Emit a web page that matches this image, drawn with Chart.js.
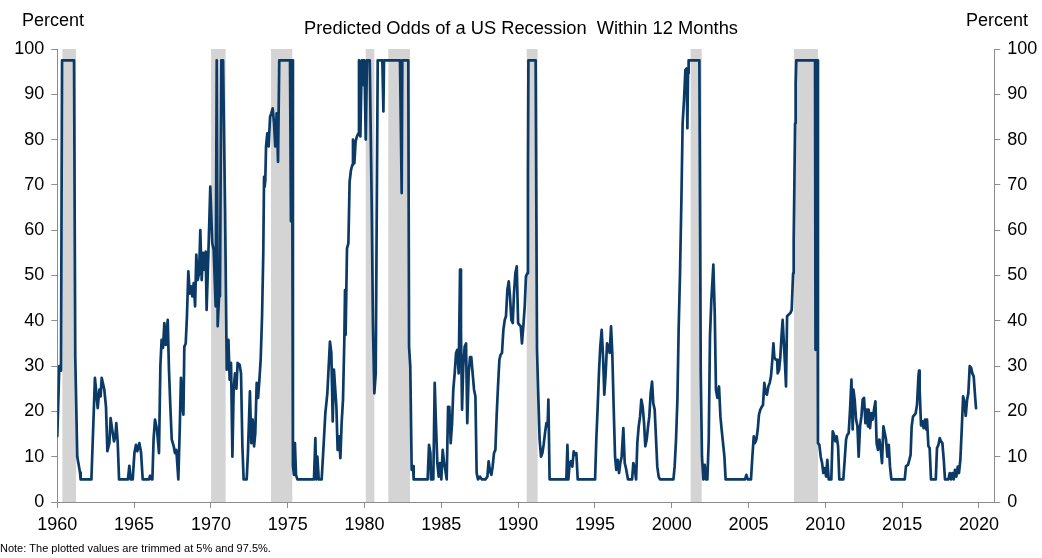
<!DOCTYPE html>
<html><head><meta charset="utf-8">
<script src="https://cdn.jsdelivr.net/npm/chart.js@4.4.1/dist/chart.umd.min.js"></script>
<style>html,body{margin:0;padding:0;background:#fff;}#wrap{width:1042px;height:558px;}</style>
</head><body><div id="wrap"><canvas id="c" width="1042" height="558"></canvas></div>
<script>
// Observation dates (decimal years, read at each vertex of the plotted line)
const dates = [
1960.00,1960.13,1960.24,1960.31,1961.09,1961.17,1961.30,1961.48,1961.52,1962.22,
1962.45,1962.63,1962.74,1962.82,1962.89,1963.06,1963.17,1963.26,1963.39,1963.47,
1963.56,1963.69,1963.78,1963.84,1963.93,1964.02,1964.60,1964.69,1964.78,1964.91,
1965.02,1965.12,1965.21,1965.34,1965.45,1965.56,1965.97,1966.04,1966.14,1966.19,
1966.27,1966.36,1966.49,1966.62,1966.71,1966.79,1966.88,1966.97,1967.06,1967.19,
1967.27,1967.36,1967.45,1967.58,1967.66,1967.75,1967.88,1967.97,1968.05,1968.14,
1968.21,1968.27,1968.36,1968.44,1968.53,1968.62,1968.70,1968.79,1968.88,1968.97,
1969.05,1969.14,1969.23,1969.31,1969.40,1969.49,1969.57,1969.66,1969.72,1969.83,
1969.96,1970.09,1970.18,1970.31,1970.38,1970.44,1970.53,1970.59,1970.68,1970.79,
1970.92,1971.03,1971.14,1971.22,1971.31,1971.40,1971.48,1971.57,1971.66,1971.74,
1971.87,1971.96,1972.05,1972.13,1972.33,1972.41,1972.54,1972.63,1972.72,1972.81,
1972.89,1972.98,1973.07,1973.15,1973.24,1973.33,1973.41,1973.46,1973.50,1973.54,
1973.59,1973.67,1973.76,1973.85,1973.93,1974.02,1974.11,1974.19,1974.28,1974.37,
1974.45,1975.15,1975.21,1975.28,1975.34,1975.41,1975.47,1975.54,1975.63,1976.71,
1976.80,1976.86,1976.93,1977.02,1977.21,1977.32,1977.45,1977.58,1977.75,1977.84,
1977.93,1978.01,1978.17,1978.25,1978.34,1978.43,1978.51,1978.60,1978.69,1978.73,
1978.77,1978.86,1978.95,1979.03,1979.12,1979.21,1979.25,1979.34,1979.42,1979.51,
1979.60,1979.64,1979.73,1979.82,1979.90,1979.95,1979.99,1980.08,1980.16,1980.34,
1980.47,1980.55,1980.64,1980.73,1980.86,1981.16,1981.23,1981.27,1982.31,1982.42,
1982.46,1982.85,1982.90,1982.98,1983.07,1983.16,1983.20,1984.11,1984.20,1984.29,
1984.33,1984.48,1984.57,1984.65,1984.74,1984.83,1984.91,1985.00,1985.09,1985.18,
1985.26,1985.35,1985.44,1985.52,1985.61,1985.70,1985.78,1985.87,1985.96,1986.04,
1986.13,1986.22,1986.28,1986.35,1986.43,1986.52,1986.61,1986.69,1986.78,1986.87,
1986.95,1987.04,1987.13,1987.22,1987.30,1987.39,1987.52,1987.63,1987.87,1988.00,
1988.08,1988.17,1988.26,1988.34,1988.43,1988.52,1988.60,1988.69,1988.78,1988.86,
1988.95,1989.04,1989.13,1989.21,1989.30,1989.39,1989.47,1989.56,1989.65,1989.73,
1989.82,1989.91,1990.00,1990.08,1990.17,1990.25,1990.34,1990.43,1990.51,1990.60,
1990.64,1990.67,1991.14,1991.23,1991.32,1991.40,1991.49,1991.58,1991.66,1991.75,
1991.84,1991.92,1991.97,1992.05,1993.14,1993.21,1993.27,1993.36,1993.44,1993.53,
1993.62,1993.70,1993.79,1993.88,1995.01,1995.09,1995.18,1995.27,1995.35,1995.44,
1995.53,1995.61,1995.70,1995.79,1995.87,1995.96,1996.05,1996.13,1996.22,1996.31,
1996.39,1996.48,1996.57,1996.65,1996.74,1996.85,1996.94,1997.02,1997.15,1997.42,
1997.50,1997.59,1997.68,1997.76,1997.85,1997.94,1998.02,1998.11,1998.20,1998.28,
1998.37,1998.46,1998.54,1998.63,1998.72,1998.80,1998.89,1998.98,1999.06,1999.15,
1999.24,2000.11,2000.19,2000.28,2000.37,2000.45,2000.54,2000.63,2000.71,2000.80,
2000.89,2000.97,2001.02,2001.06,2001.10,2001.80,2001.89,2001.97,2002.06,2002.15,
2002.23,2002.32,2002.41,2002.49,2002.58,2002.71,2002.80,2002.88,2002.97,2003.08,
2003.17,2003.25,2003.34,2003.43,2003.51,2004.77,2004.86,2004.95,2005.16,2005.25,
2005.34,2005.42,2005.51,2005.60,2005.68,2005.77,2005.86,2005.94,2006.03,2006.12,
2006.20,2006.29,2006.38,2006.46,2006.55,2006.62,2006.68,2006.77,2006.86,2006.90,
2006.99,2007.07,2007.16,2007.22,2007.29,2007.38,2007.44,2007.51,2007.59,2007.72,
2007.81,2007.90,2007.94,2007.98,2008.03,2008.07,2008.11,2009.33,2009.36,2009.40,
2009.47,2009.52,2009.61,2009.70,2009.79,2009.87,2009.96,2010.05,2010.13,2010.22,
2010.39,2010.48,2010.57,2010.65,2010.74,2010.83,2010.91,2011.17,2011.26,2011.35,
2011.43,2011.52,2011.61,2011.70,2011.78,2011.83,2011.91,2012.00,2012.09,2012.17,
2012.26,2012.35,2012.43,2012.52,2012.61,2012.69,2012.78,2012.82,2012.91,2013.00,
2013.08,2013.17,2013.26,2013.34,2013.43,2013.52,2013.61,2013.69,2013.78,2013.87,
2013.95,2014.04,2014.13,2014.21,2014.30,2015.17,2015.25,2015.38,2015.47,2015.55,
2015.62,2015.71,2015.80,2015.88,2015.97,2016.06,2016.10,2016.14,2016.23,2016.32,
2016.40,2016.49,2016.58,2016.62,2016.71,2016.79,2016.88,2017.19,2017.27,2017.36,
2017.45,2017.53,2017.62,2017.71,2017.79,2018.01,2018.10,2018.18,2018.27,2018.36,
2018.44,2018.53,2018.62,2018.70,2018.79,2018.88,2018.97,2019.05,2019.14,2019.23,
2019.31,2019.40,2019.49,2019.57,2019.66,2019.75,2019.81
];
// Predicted odds of recession within 12 months (percent, trimmed at 5 and 97.5)
const odds = [
14.5,30,29,97.5,97.5,32,10,6.5,5,5,
27.4,20.7,24.8,23.3,27.4,24.8,21,11.2,13,18.5,
16.3,13.4,14.5,17.4,13.4,5,5,8,5,5,
10.8,12.6,11.2,13,11,5,5,5.8,5,5,
14,18.2,16,10.8,30,35.8,34,39.5,34.7,40.2,
29.2,21,13.8,12.3,10.8,11.5,5,16,27.4,21,
19.3,34.3,35,41,50.9,46,47.6,45.4,48.3,43.2,
54.6,49,50.5,60,49,55,51.3,55.3,42.4,54.2,
69.6,57.1,55.7,43.2,97.5,38.8,45.4,46,97.5,97.5,
65,29.2,35.8,27,30.7,10,24.8,28.4,25,30.7,
30.3,28.4,12.3,5,5,10.8,24.4,13,18.2,12.3,
15.2,26.3,23,26.6,31.4,41,55,71.8,69.6,71,
78.5,81.4,78.5,85,85.8,86.9,83.6,78.5,85.8,75.1,
97.5,97.5,62,97.5,8,6,13,6,5,5,
14.1,5,10,5,5,11.5,19.6,24,35.4,32.9,
17.8,29.2,21,11.5,14.5,9.7,17.4,22.6,36.5,46.8,
36.9,56,57.1,70.7,73.3,74.4,80,74.8,79.6,80.7,
81.4,97.5,80.7,97.5,97.5,92,97.5,80,97.5,97.5,
65,38.8,24,28.4,97.5,97.5,86.2,97.5,97.5,68.2,
97.5,97.5,34.3,29.9,7.1,7.9,5,5,12.6,10.8,
5,5,26.3,17.4,8.6,5.6,8.6,5,11.5,8.6,
7.1,5,21,21,13,17.4,24.8,28.4,32.9,33.6,
28.4,51.3,37.3,20.4,30,34.3,35,17.4,28.4,32,
32,28.4,24.8,23.3,6.4,5,5.6,5,5,5.6,
9,6.8,6,7.8,10.8,11.5,18.9,25.5,31.4,32.5,
32.9,38,40.2,41,46.8,48.7,45.4,40.2,39.5,46,
50.5,52,39.5,39.1,38.8,35,38.8,43.2,49.8,50.5,
72.6,97.5,97.5,33.6,22.6,13.8,10,10.8,12.6,15.2,
17.4,16.7,22.6,5,5,12.6,5,8.6,9,7.8,
11.2,10.4,10.8,5,5,13.8,21,29.2,34.3,38,
32,23.7,28.4,35,34.3,32.9,38.8,32.9,21,10,
7.1,9.3,6.4,8.6,10,16.3,8.6,7.5,5,5,
8.6,7.5,5,13,16.7,18.9,22.6,21,17.4,12.3,
13.8,16.7,18.9,24,26.6,21.8,20.4,13.8,7.8,5.6,
5,5,7.8,13.8,22.6,38,50.5,66.7,83.6,88.7,
95.4,95.7,82.5,94.6,97.5,97.5,28.4,10,5,8.2,
5,5,13.8,36.5,44.6,52.4,41.7,24.8,23,25.5,
18.9,16,13,10,5,5,6,5,5,10,
14.5,13,13.8,16,19.3,20.4,21,21.4,26.3,24,
23.7,25.5,26.3,27.7,31.4,35,32,31.4,31.4,28.4,
29.2,32,37.3,40.2,35.8,30,25.5,41,41.3,41.7,
42.4,50.5,57.9,68.9,83.6,92.4,97.5,97.5,33.6,97.5,
97.5,13,12.6,10,8.6,6.4,7.5,5.6,9.3,5,
5,15.6,14.8,13.4,14.5,12.3,5,5,9.3,13.8,
14.8,15.2,20.4,27,16,24.8,22.6,18.2,16.7,10,
16.7,18.9,22.6,23,17.4,20.4,16.7,20.4,16.3,19.6,
18.2,20.4,22.2,13,11.5,13.8,11.5,8.6,16.7,15.2,
13.8,10,12.6,7.8,5,5,7.9,8.2,9.3,10.4,
16.7,18.9,19.2,19.6,21.5,27.7,29,24.8,16.9,17.8,
16.3,18.2,16,18.2,12.3,11.9,5,5,11.9,12.6,
14.1,13.4,13,9.3,5,5,6.4,5,6.4,5,
7.1,5.6,7.8,6.4,9.3,16,23.3,22.2,19,22.6,
24,30,29.6,28.4,27.7,23.3,20.7
];
// NBER recessions (decimal years)
const recessionStarts = [1960.33, 1970.01, 1973.91, 1980.08, 1981.55, 1990.56, 2001.23, 2007.96];
const recessionEnds   = [1961.22, 1970.96, 1975.30, 1980.64, 1982.96, 1991.27, 2001.95, 2009.52];
// Axis ticks
const xTicks = [1960,1965,1970,1975,1980,1985,1990,1995,2000,2005,2010,2015,2020];
const yTicks = [0,10,20,30,40,50,60,70,80,90,100];
const xRange = [1960, 2021];
const titleText = 'Predicted Odds of a US Recession  Within 12 Months';
const axisUnit = 'Percent';
const noteText = 'Note: The plotted values are trimmed at 5% and 97.5%.';

if (dates.length !== odds.length) console.error('length mismatch', dates.length, odds.length);

const FONT = '"Liberation Sans", Arial, sans-serif';
const AXIS = '#8c8c8c';

const bands = {
  id: 'bands',
  beforeDatasetsDraw(chart) {
    const { ctx, scales: { x, y } } = chart;
    ctx.save();
    ctx.fillStyle = '#d4d4d4';
    const yt = y.getPixelForValue(100), yb = y.getPixelForValue(0);
    recessionStarts.forEach((s, i) => {
      const x0 = x.getPixelForValue(s), x1 = x.getPixelForValue(recessionEnds[i]);
      ctx.fillRect(x0, yt, x1 - x0, yb - yt);
    });
    ctx.restore();
  }
};
const texts = {
  id: 'texts',
  afterDraw(chart) {
    const ctx = chart.ctx;
    ctx.save();
    ctx.fillStyle = '#000';
    ctx.textBaseline = 'middle';
    ctx.font = '18px ' + FONT;
    ctx.textAlign = 'left';
    ctx.fillText(axisUnit, 22, 21);
    ctx.textAlign = 'right';
    ctx.fillText(axisUnit, 1028, 21);
    ctx.textAlign = 'center';
    ctx.font = '18.3px ' + FONT;
    ctx.fillText(titleText, 521, 29);
    ctx.font = '11px ' + FONT;
    ctx.textAlign = 'left';
    ctx.fillText(noteText, 0, 549);
    ctx.restore();
  }
};

const yAxis = (pos, width) => ({
  type: 'linear', position: pos, min: 0, max: 100,
  afterBuildTicks: s => { s.ticks = yTicks.map(v => ({ value: v })); },
  afterFit: s => { s.width = width; },
  grid: { drawOnChartArea: false, drawTicks: true, tickLength: 6, color: AXIS },
  border: { display: true, color: AXIS, width: 1 },
  ticks: { font: { family: FONT, size: 18 }, color: '#000', padding: 7 }
});

new Chart(document.getElementById('c'), {
  type: 'line',
  data: {
    datasets: [{
      data: dates.map((d, i) => ({ x: d, y: odds[i] })),
      borderColor: '#0b3a66', borderWidth: 2.7, pointRadius: 0,
      tension: 0, borderJoinStyle: 'round', borderCapStyle: 'round', fill: false
    }]
  },
  options: {
    responsive: false, animation: false, devicePixelRatio: 1,
    layout: { padding: { top: 49, left: 0, right: 0, bottom: 0 } },
    plugins: { legend: { display: false }, tooltip: { enabled: false }, title: { display: false } },
    scales: {
      x: {
        type: 'linear', position: 'bottom', min: xRange[0], max: xRange[1],
        afterBuildTicks: s => { s.ticks = xTicks.map(v => ({ value: v })); },
        afterFit: s => { s.height = 56; },
        grid: { drawOnChartArea: false, drawTicks: true, tickLength: 6, color: AXIS },
        border: { display: true, color: AXIS, width: 1 },
        ticks: { font: { family: FONT, size: 18 }, color: '#000', padding: 6, maxRotation: 0, autoSkip: false, callback: v => String(v) }
      },
      y: yAxis('left', 57.3),
      y2: yAxis('right', 47.7)
    }
  },
  plugins: [bands, texts]
});
</script></body></html>
